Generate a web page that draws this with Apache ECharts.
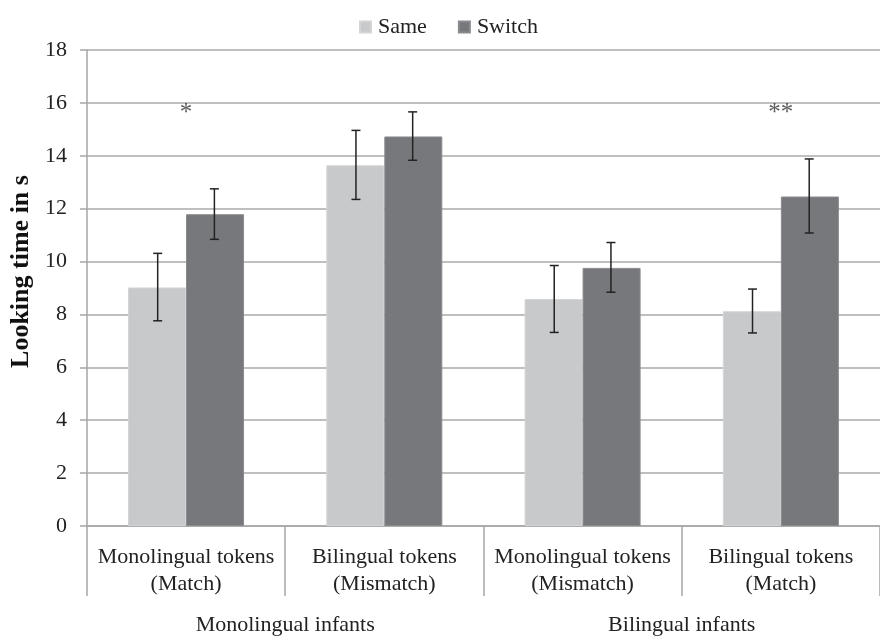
<!DOCTYPE html>
<html>
<head>
  <meta charset="UTF-8">
  <style>
    body { margin: 0; }
    #chart { width: 880px; height: 636px; }
  </style>
  <script src="https://cdn.jsdelivr.net/npm/echarts@6/dist/echarts.min.js"></script>
</head>
<body>
  <div id="chart"></div>
  <script>
    var categories = ['Monolingual tokens\n(Match)', 'Bilingual tokens\n(Mismatch)', 'Monolingual tokens\n(Mismatch)', 'Bilingual tokens\n(Match)'];
    var groups = ['Monolingual infants', 'Bilingual infants'];
    var sameVals = [9.02, 13.64, 8.58, 8.12];
    var sameLow = [7.76, 12.35, 7.32, 7.30];
    var sameHigh = [10.31, 14.96, 9.85, 8.96];
    var switchVals = [11.79, 14.73, 9.76, 12.46];
    var switchLow = [10.84, 13.83, 8.84, 11.08];
    var switchHigh = [12.75, 15.66, 10.72, 13.88];
    var sigMarks = ['*', '', '', '**'];
    var sigY = [15.6, null, null, 15.6];

    var serif = "'Liberation Serif', 'Times New Roman', serif";
    var chart = echarts.init(document.getElementById('chart'));

    function errData(low, high) {
      return low.map(function (v, i) { return [i, v, high[i]]; });
    }

    // side: -1 = Same bar, +1 = Switch bar
    function errRender(side) {
      return function (params, api) {
        var i = api.value(0);
        var lo = api.coord([i, api.value(1)]);
        var hi = api.coord([i, api.value(2)]);
        var band = api.size([1, 0])[0];
        var x = lo[0] + side * band * 0.143;
        var c = 4.5;
        var st = { stroke: '#222', lineWidth: 1.5 };
        return {
          type: 'group',
          children: [
            { type: 'line', shape: { x1: x, y1: lo[1], x2: x, y2: hi[1] }, style: st },
            { type: 'line', shape: { x1: x - c, y1: lo[1], x2: x + c, y2: lo[1] }, style: st },
            { type: 'line', shape: { x1: x - c, y1: hi[1], x2: x + c, y2: hi[1] }, style: st }
          ]
        };
      };
    }

    var option = {
      animation: false,
      textStyle: { fontFamily: serif },
      legend: {
        left: 354,
        top: 11,
        itemWidth: 11,
        itemHeight: 11,
        itemGap: 31,
        icon: 'rect',
        data: ['Same', 'Switch'],
        textStyle: { fontFamily: serif, fontSize: 22, color: '#222', padding: [0, 0, 0, 2] }
      },
      grid: { left: 81, top: 50, width: 811, height: 477.7 },
      xAxis: [
        {
          type: 'category',
          data: categories,
          axisLine: { lineStyle: { color: '#a6a6a6', width: 1.5 } },
          axisTick: { show: true, length: 70, interval: 0, lineStyle: { color: '#a6a6a6', width: 1.5 } },
          axisLabel: { interval: 0, margin: 18, fontFamily: serif, fontSize: 22, lineHeight: 27, color: '#222' }
        },
        {
          type: 'category',
          position: 'bottom',
          offset: 80,
          data: groups,
          axisLine: { show: false },
          axisTick: { show: false },
          axisLabel: { interval: 0, margin: 8, fontFamily: serif, fontSize: 22, color: '#222' }
        }
      ],
      yAxis: {
        type: 'value',
        min: 0,
        max: 18,
        interval: 2,
        name: 'Looking time in s',
        nameLocation: 'middle',
        nameGap: 47,
        nameTextStyle: { fontFamily: serif, fontSize: 26, fontWeight: 'bold', color: '#111', padding: [0, 0, 0, 33] },
        axisLine: { show: true, lineStyle: { color: '#a6a6a6', width: 1.5 } },
        axisTick: { show: true, length: 7, lineStyle: { color: '#a6a6a6', width: 1.5 } },
        axisLabel: { margin: 20, fontFamily: serif, fontSize: 22, color: '#222' },
        splitLine: { lineStyle: { color: '#aaaaaa', width: 1.5 } }
      },
      series: [
        {
          name: 'Same',
          type: 'bar',
          data: sameVals,
          barWidth: 58,
          barGap: 0,
          itemStyle: { color: '#c8c9cb', borderColor: '#d3d4d6', borderWidth: 1 }
        },
        {
          name: 'Switch',
          type: 'bar',
          data: switchVals,
          barWidth: 58,
          barGap: 0,
          itemStyle: { color: '#77787c', borderColor: '#8a8b8e', borderWidth: 1 }
        },
        {
          type: 'custom',
          renderItem: errRender(-1),
          data: errData(sameLow, sameHigh),
          z: 5
        },
        {
          type: 'custom',
          renderItem: errRender(1),
          data: errData(switchLow, switchHigh),
          z: 5
        },
        {
          type: 'scatter',
          symbolSize: 0,
          data: sigY.map(function (v, i) { return v == null ? null : [i, v]; }).filter(Boolean),
          label: {
            show: true,
            position: 'inside',
            fontFamily: serif,
            fontSize: 25,
            color: '#333',
            formatter: function (p) { return sigMarks[p.value[0]]; }
          },
          z: 5
        }
      ]
    };
    chart.setOption(option);
  </script>
</body>
</html>
